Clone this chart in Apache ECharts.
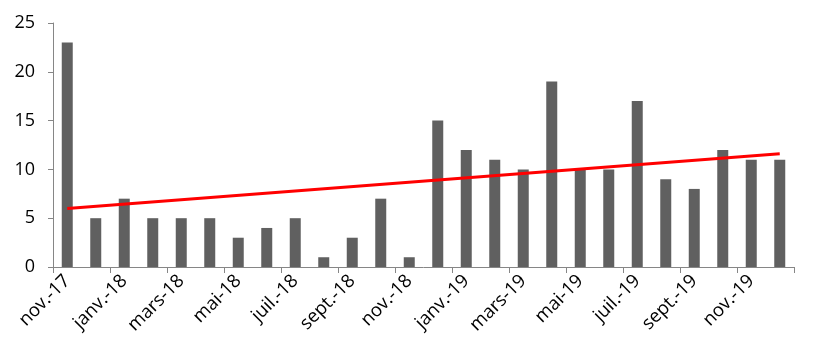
<!DOCTYPE html>
<html>
<head>
<meta charset="utf-8">
<script src="https://cdn.jsdelivr.net/npm/echarts@6/dist/echarts.min.js"></script>
<style>
  html, body { margin: 0; padding: 0; background: #fff; }
  #main { width: 820px; height: 361px; }
</style>
</head>
<body>
<div id="main"></div>
<script>
// months, nov. 2017 -> dec. 2019
const categories = [
  "nov.-17", "déc.-17", "janv.-18", "févr.-18", "mars-18", "avr.-18", "mai-18", "juin-18",
  "juil.-18", "août-18", "sept.-18", "oct.-18", "nov.-18", "déc.-18", "janv.-19", "févr.-19",
  "mars-19", "avr.-19", "mai-19", "juin-19", "juil.-19", "août-19", "sept.-19", "oct.-19",
  "nov.-19", "déc.-19"
];
const counts = [23, 5, 7, 5, 5, 5, 3, 4, 5, 1, 3, 7, 1, 15, 12, 11, 10, 19, 10, 10, 17, 9, 8, 12, 11, 11];
// trend line end points
const trendStart = 6.0;
const trendEnd = 11.6;
const yTicks = [0, 5, 10, 15, 20, 25];

const chart = echarts.init(document.getElementById("main"));
const font = "'Open Sans', sans-serif";

chart.setOption({
  animation: false,
  grid: { left: 53, right: 26, top: 23, bottom: 94 },
  xAxis: {
    type: "category",
    data: categories,
    axisLine: { lineStyle: { color: "#868686", width: 1 } },
    axisTick: { show: true, interval: 1, length: 6, lineStyle: { color: "#868686" } },
    axisLabel: {
      interval: 1,
      rotate: 45,
      margin: 11,
      color: "#000",
      fontSize: 18.5,
      fontFamily: font
    }
  },
  yAxis: {
    type: "value",
    min: yTicks[0],
    max: yTicks[yTicks.length - 1],
    interval: 5,
    splitLine: { show: false },
    axisLine: { show: true, lineStyle: { color: "#868686", width: 1 } },
    axisTick: { show: true, length: 5, lineStyle: { color: "#868686" } },
    axisLabel: { color: "#000", fontSize: 18, fontFamily: font, margin: 18 }
  },
  series: [
    {
      type: "bar",
      data: counts,
      barWidth: 11,
      itemStyle: { color: "#606060" }
    },
    {
      type: "line",
      data: [[categories[0], trendStart], [categories[categories.length - 1], trendEnd]],
      symbol: "none",
      lineStyle: { color: "#ff0000", width: 3 },
      z: 5
    }
  ]
});
</script>
</body>
</html>
